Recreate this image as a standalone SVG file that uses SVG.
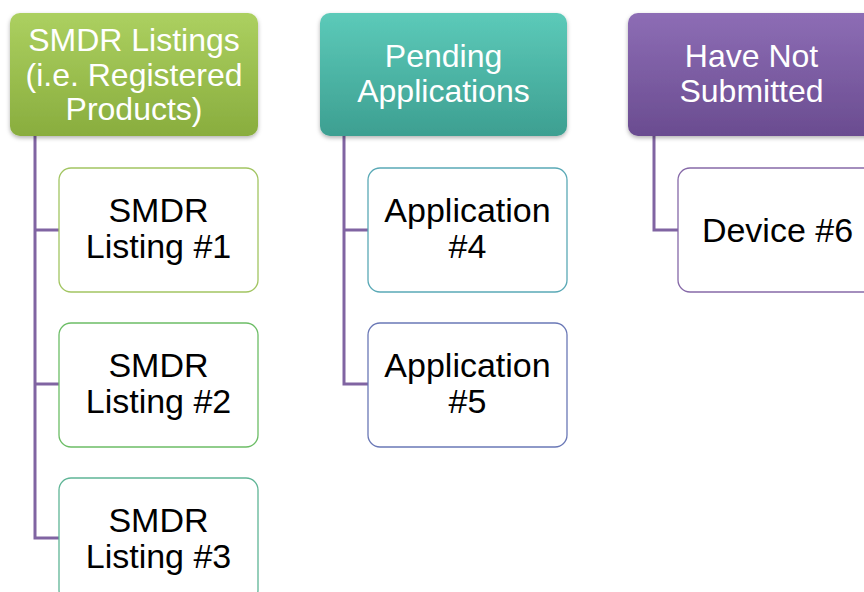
<svg xmlns="http://www.w3.org/2000/svg" width="864" height="592" viewBox="0 0 864 592">
  <defs>
    <linearGradient id="gGreen" x1="0" y1="0" x2="0" y2="1">
      <stop offset="0" stop-color="#acd060"/>
      <stop offset="1" stop-color="#89ad3e"/>
    </linearGradient>
    <linearGradient id="gTeal" x1="0" y1="0" x2="0" y2="1">
      <stop offset="0" stop-color="#5ccab9"/>
      <stop offset="1" stop-color="#3d9f91"/>
    </linearGradient>
    <linearGradient id="gPurple" x1="0" y1="0" x2="0" y2="1">
      <stop offset="0" stop-color="#8d6db5"/>
      <stop offset="1" stop-color="#6a4c90"/>
    </linearGradient>
    <filter id="shadow" x="-10%" y="-10%" width="120%" height="130%">
      <feDropShadow dx="0" dy="2" stdDeviation="2" flood-color="#000" flood-opacity="0.3"/>
    </filter>
  </defs>
  <style>
    .hdr { filter: url(#shadow); }
    .htext { font-size: 32px; fill: #ffffff; text-anchor: middle; }
    .child { fill: #ffffff; stroke-width: 1.3; }
    .ctext { font-size: 34px; fill: #000000; text-anchor: middle; }
    .conn { fill: none; stroke: #8064a2; stroke-width: 3; }
  </style>
  <rect width="864" height="592" fill="#ffffff"/>

  <g id="connectors">
    <path class="conn" d="M35,136 V538 H59 M35,230 H59 M35,384 H59"/>
    <path class="conn" d="M344,136 V384 H368 M344,230 H368"/>
    <path class="conn" d="M654,136 V230 H678"/>
  </g>

  <g font-family="'Liberation Sans', sans-serif">
  <g id="hdr-smdr">
    <rect class="hdr" x="10" y="13" width="248" height="123" rx="10" fill="url(#gGreen)"/>
    <text class="htext" x="134" y="51">SMDR Listings</text>
    <text class="htext" x="134" y="85.5">(i.e. Registered</text>
    <text class="htext" x="134" y="120">Products)</text>
  </g>
  <g id="hdr-pending">
    <rect class="hdr" x="320" y="13" width="247" height="123" rx="10" fill="url(#gTeal)"/>
    <text class="htext" x="443.5" y="67">Pending</text>
    <text class="htext" x="443.5" y="102">Applications</text>
  </g>
  <g id="hdr-notsubmitted">
    <rect class="hdr" x="628" y="13" width="247" height="123" rx="10" fill="url(#gPurple)"/>
    <text class="htext" x="751.5" y="67">Have Not</text>
    <text class="htext" x="751.5" y="102">Submitted</text>
  </g>

  <g id="smdr1">
    <rect class="child" x="59" y="168" width="199" height="124" rx="12" stroke="#a2c562"/>
    <text class="ctext" x="158.5" y="222">SMDR</text>
    <text class="ctext" x="158.5" y="258">Listing #1</text>
  </g>
  <g id="smdr2">
    <rect class="child" x="59" y="323" width="199" height="124" rx="12" stroke="#6cbd66"/>
    <text class="ctext" x="158.5" y="377">SMDR</text>
    <text class="ctext" x="158.5" y="413">Listing #2</text>
  </g>
  <g id="smdr3">
    <rect class="child" x="59" y="478" width="199" height="124" rx="12" stroke="#5fb596"/>
    <text class="ctext" x="158.5" y="532">SMDR</text>
    <text class="ctext" x="158.5" y="568">Listing #3</text>
  </g>
  <g id="app4">
    <rect class="child" x="368" y="168" width="199" height="124" rx="12" stroke="#5aa9b6"/>
    <text class="ctext" x="467.5" y="222">Application</text>
    <text class="ctext" x="467.5" y="258">#4</text>
  </g>
  <g id="app5">
    <rect class="child" x="368" y="323" width="199" height="124" rx="12" stroke="#6a78b6"/>
    <text class="ctext" x="467.5" y="377">Application</text>
    <text class="ctext" x="467.5" y="413">#5</text>
  </g>
  <g id="device6">
    <rect class="child" x="678" y="168" width="199" height="124" rx="12" stroke="#8669a8"/>
    <text class="ctext" x="777.5" y="242">Device #6</text>
  </g>
  </g>
</svg>
